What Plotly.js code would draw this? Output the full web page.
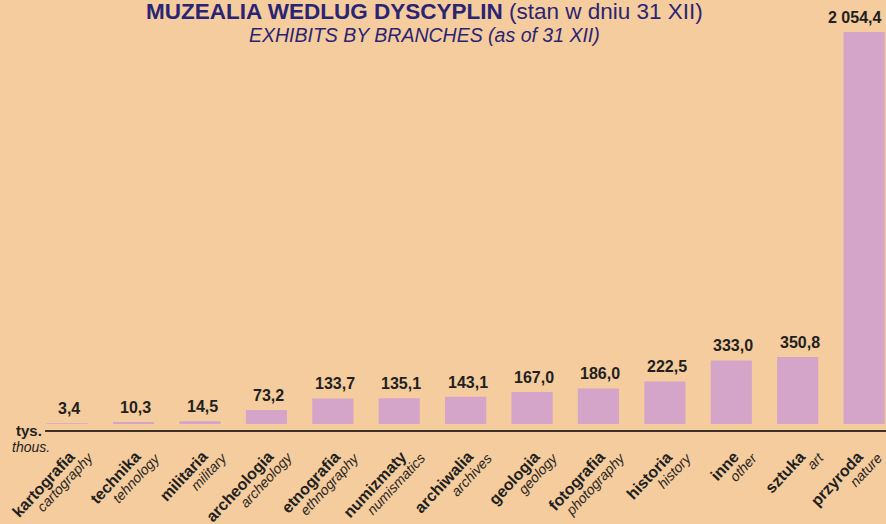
<!DOCTYPE html>
<html>
<head>
<meta charset="utf-8">
<script src="https://cdn.plot.ly/plotly-3.0.1.min.js"></script>
<style>
html,body{margin:0;padding:0;background:#f4cc9e;}
#chart{width:886px;height:524px;}
</style>
</head>
<body>
<div id="chart"></div>
<script>
const categoriesPL = ["kartografia","technika","militaria","archeologia","etnografia","numizmaty","archiwalia","geologia","fotografia","historia","inne","sztuka","przyroda"];
const categoriesEN = ["cartography","tehnology","military","archeology","ethnography","numismatics","archives","geology","photography","history","other","art","nature"];
const values = [3.4, 10.3, 14.5, 73.2, 133.7, 135.1, 143.1, 167.0, 186.0, 222.5, 333.0, 350.8, 2054.4];

function fmt(v){
  const parts = v.toFixed(1).split(".");
  const intp = parts[0].replace(/\B(?=(\d{3})+(?!\d))/g, " ");
  return intp + "," + parts[1];
}

const FONT = "Liberation Sans, Arial, sans-serif";
const PL_SIZE = 16, EN_SIZE = 14;
const ANG = 47;
const ux = Math.cos(ANG * Math.PI / 180), uy = Math.sin(ANG * Math.PI / 180);
const nx = uy, ny = ux;

const cv = document.createElement("canvas").getContext("2d");
function textW(t, font){ cv.font = font; return cv.measureText(t).width; }

const xs = categoriesPL.map((_, i) => i);

const trace = {
  type: "bar",
  x: xs,
  y: values,
  marker: {color: "#d4a5c8"},
  width: 0.62,
  hoverinfo: "skip"
};

const annotations = [];
values.forEach((v, i) => {
  annotations.push({
    x: i, y: v, xref: "x", yref: "y",
    text: fmt(v), showarrow: false,
    xanchor: "center", yanchor: "bottom", yshift: 4,
    xshift: (i === values.length - 1) ? -10 : 2,
    font: {family: FONT, size: 16, color: "#231f20", weight: "bold"}
  });
});

// end point (middle of right edge) of the Polish label relative to bar centre / axis line
const EPy = 23;
const ALONG = 12, PERP = 15;
categoriesPL.forEach((c, i) => {
  const EPx = (i === categoriesPL.length - 1) ? -4 : 4;
  const Lp = textW(c, "bold " + PL_SIZE + "px 'Liberation Sans'");
  const cxP = EPx - ux * Lp / 2, cyP = EPy + uy * Lp / 2;
  annotations.push({
    x: i, y: 0, xref: "x", yref: "paper",
    text: "<b>" + c + "</b>", showarrow: false, textangle: -ANG,
    xanchor: "center", yanchor: "middle", borderpad: 0,
    xshift: cxP, yshift: -cyP,
    font: {family: FONT, size: PL_SIZE, color: "#231f20"}
  });
  const Le = textW(categoriesEN[i], "italic " + EN_SIZE + "px 'Liberation Sans'");
  const EEx = EPx + ALONG * ux + PERP * nx, EEy = EPy - ALONG * uy + PERP * ny;
  const cxE = EEx - ux * Le / 2, cyE = EEy + uy * Le / 2;
  annotations.push({
    x: i, y: 0, xref: "x", yref: "paper",
    text: "<i>" + categoriesEN[i] + "</i>", showarrow: false, textangle: -ANG,
    xanchor: "center", yanchor: "middle", borderpad: 0,
    xshift: cxE, yshift: -cyE,
    font: {family: FONT, size: EN_SIZE, color: "#2a2622"}
  });
});
annotations.push({
  x: 0, y: 0, xref: "paper", yref: "paper", xanchor: "right", yanchor: "middle",
  xshift: 9, yshift: 1, borderpad: 0,
  text: "<b>tys.</b>", showarrow: false,
  font: {family: FONT, size: 15, color: "#231f20"}
});
annotations.push({
  x: 0, y: 0, xref: "paper", yref: "paper", xanchor: "right", yanchor: "middle",
  xshift: 17, yshift: -16, borderpad: 0,
  text: "<i>thous.</i>", showarrow: false,
  font: {family: FONT, size: 14, color: "#231f20"}
});
annotations.push({
  xref: "paper", yref: "paper", x: (424 - 34) / 852, y: 1, yanchor: "middle", xanchor: "center",
  yshift: -11, showarrow: false,
  text: "<b>MUZEALIA WEDLUG DYSCYPLIN</b> (stan w dniu 31 XII)",
  font: {family: FONT, size: 22.5, color: "#2b2473"}
});
annotations.push({
  xref: "paper", yref: "paper", x: (424 - 34) / 852, y: 1, yanchor: "middle", xanchor: "center",
  yshift: -35, showarrow: false,
  text: "<i>EXHIBITS BY BRANCHES (as of 31 XII)</i>",
  font: {family: FONT, size: 19.5, color: "#2b2473"}
});

const layout = {
  width: 886, height: 524,
  paper_bgcolor: "#f4cc9e", plot_bgcolor: "rgba(0,0,0,0)",
  margin: {l: 34, r: 0, t: 0, b: 93},
  showlegend: false,
  xaxis: {range: [-0.5, 12.33], showgrid: false, zeroline: false, showticklabels: false, ticks: "", fixedrange: true},
  yaxis: {range: [-37, 2222], showgrid: false, zeroline: false, showticklabels: false, ticks: "", fixedrange: true},
  shapes: [{
    type: "line", xref: "paper", yref: "paper", x0: 0.013, x1: 1, y0: 0, y1: 0,
    line: {color: "#3b3226", width: 2}
  }],
  annotations: annotations
};

Plotly.newPlot("chart", [trace], layout, {displayModeBar: false, staticPlot: true});
</script>
</body>
</html>
